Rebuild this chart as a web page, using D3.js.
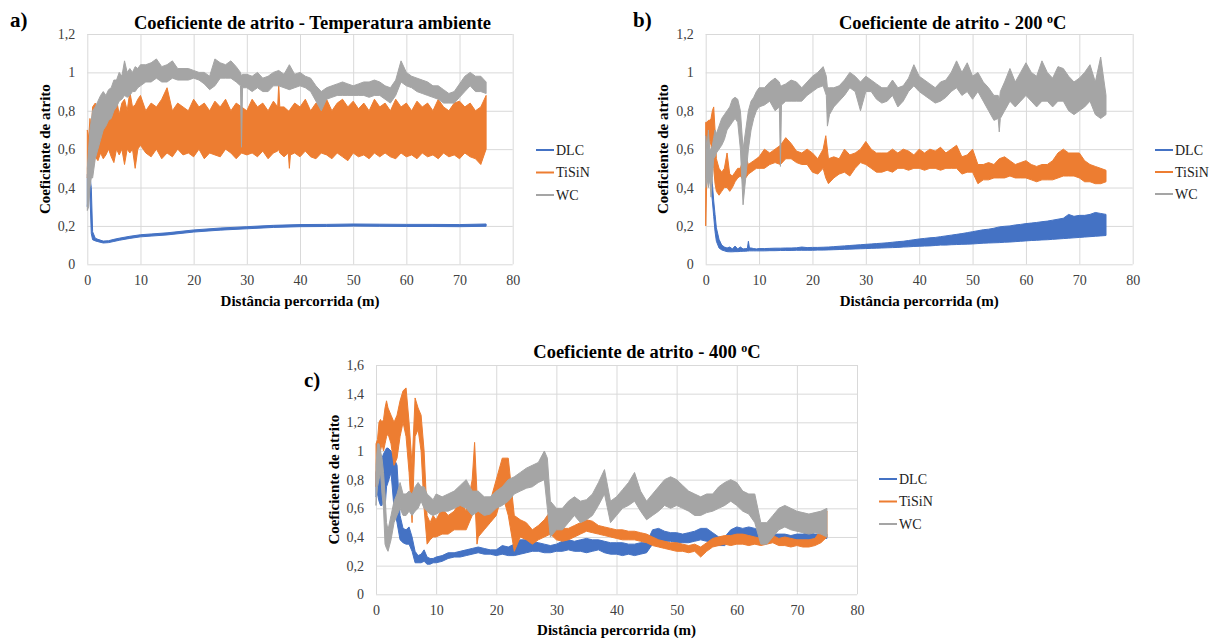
<!DOCTYPE html>
<html>
<head>
<meta charset="utf-8">
<script src="https://cdnjs.cloudflare.com/ajax/libs/d3/7.8.5/d3.min.js"></script>
<style>
  body { margin: 0; background: #fff; }
  text { font-family: "Liberation Serif", "Times New Roman", serif; }
</style>
</head>
<body>
<script>

// a) Temperatura ambiente
var dlcA = [[0,0.30,0.47],[0.25,0.40,0.47],[0.5,0.36,0.46],[0.75,0.16,0.40],[1,0.128,0.17],[1.5,0.122,0.136],[2,0.118,0.13],[3,0.111,0.121],[4,0.113,0.123],[5,0.119,0.13],[6,0.125,0.136],[8,0.135,0.146],[10,0.143,0.154],[12,0.147,0.158],[15,0.153,0.164],[20,0.168,0.179],[25,0.178,0.189],[30,0.185,0.196],[35,0.192,0.203],[40,0.196,0.207],[45,0.197,0.208],[50,0.199,0.21],[55,0.198,0.209],[60,0.197,0.208],[65,0.197,0.208],[70,0.196,0.207],[75,0.198,0.21]];
var tisinA = [[0,0.45,0.70],[0.25,0.50,0.66],[0.5,0.55,0.76],[0.75,0.52,0.70],[1,0.50,0.82],[1.5,0.56,0.84],[2,0.54,0.80],[2.5,0.58,0.85],[3,0.55,0.78],[3.5,0.57,0.86],[4,0.60,0.90],[4.5,0.56,0.82],[5,0.53,0.80],[5.5,0.60,0.86],[6,0.57,0.78],[6.5,0.60,0.84],[7,0.52,0.86],[7.5,0.60,0.80],[8,0.58,0.90],[8.5,0.60,0.82],[9,0.50,0.83],[9.5,0.60,0.86],[10,0.62,0.88],
  [11,0.58,0.80],[12,0.56,0.84],[13,0.60,0.82],[14,0.55,0.86],[15,0.58,0.92],[16,0.56,0.80],[17,0.60,0.84],[18,0.57,0.82],[19,0.58,0.80],[20,0.56,0.86],[21,0.60,0.82],[22,0.55,0.84],[23,0.58,0.80],[24,0.57,0.85],[25,0.56,0.82],[26,0.60,0.86],[27,0.58,0.80],[28,0.55,0.84],[29,0.58,0.82],[30,0.57,0.80],[31,0.58,0.86],[32,0.56,0.82],[33,0.59,0.84],[34,0.55,0.80],[35,0.58,0.85],[35.8,0.59,0.82],[36,0.60,0.94],[36.2,0.58,0.82],[37,0.56,0.82],[37.8,0.58,0.80],[38,0.50,0.80],[38.2,0.57,0.81],[39,0.58,0.84],[40,0.56,0.82],[41,0.59,0.86],[42,0.56,0.80],[43,0.55,0.84],[44,0.58,0.82],[45,0.57,0.86],[46,0.55,0.80],[47,0.58,0.84],[48,0.56,0.86],[49,0.54,0.82],[50,0.58,0.85],[51,0.56,0.81],[52,0.57,0.84],[53,0.55,0.80],[54,0.58,0.86],[55,0.56,0.82],[56,0.58,0.84],[57,0.56,0.80],[58,0.55,0.86],[59,0.58,0.82],[60,0.56,0.84],[61,0.57,0.80],[62,0.55,0.85],[63,0.58,0.82],[64,0.56,0.84],[65,0.57,0.80],[66,0.55,0.86],[67,0.58,0.82],[68,0.56,0.80],[69,0.57,0.84],[70,0.55,0.85],[71,0.58,0.82],[72,0.56,0.84],[73,0.55,0.80],[74,0.52,0.82],[75,0.60,0.88]];
var wcA = [[0,0.28,0.50],[0.25,0.30,0.60],[0.5,0.40,0.70],[0.75,0.45,0.75],[1,0.45,0.80],[1.5,0.55,0.82],[2,0.60,0.85],[2.5,0.65,0.88],[3,0.70,0.90],[3.5,0.72,0.88],[4,0.75,0.91],[4.5,0.76,0.92],[5,0.80,0.96],[5.5,0.82,0.96],[6,0.85,1.00],[6.5,0.86,0.98],[7,0.88,1.06],[7.5,0.87,1.00],[8,0.88,1.02],[8.5,0.90,1.00],[9,0.90,1.03],[9.5,0.92,1.02],[10,0.93,1.04],
  [11,0.95,1.04],[12,0.95,1.05],[13,0.97,1.07],[14,0.95,1.03],[15,0.95,1.04],[16,0.97,1.06],[17,0.96,1.02],[18,0.96,1.02],[19,0.96,1.02],[20,0.97,1.01],[21,0.96,1.00],[22,0.94,1.00],[23,0.91,0.98],[24,0.93,1.07],[25,0.97,1.05],[26,0.97,1.04],[27,0.97,1.06],[28,0.95,1.03],[28.8,0.93,1.00],[29,0.61,0.98],[29.2,0.92,0.99],[30,0.92,0.99],[31,0.90,0.98],[32,0.92,1.00],[33,0.90,0.97],[34,0.90,0.98],[35,0.93,1.00],[36,0.93,1.01],[37,0.92,0.99],[38,0.91,1.04],[39,0.92,0.99],[40,0.93,1.00],[41,0.92,0.98],[42,0.90,0.97],[43,0.85,0.93],[44,0.80,0.90],[45,0.86,0.92],[46,0.87,0.93],[47,0.88,0.94],[48,0.88,0.95],[49,0.88,0.94],[50,0.88,0.93],[51,0.88,0.94],[52,0.88,0.95],[53,0.87,0.95],[54,0.88,0.96],[55,0.88,0.95],[56,0.86,0.93],[57,0.84,0.92],[58,0.88,0.96],[59,0.95,1.06],[60,0.93,1.00],[61,0.92,0.98],[62,0.90,0.97],[63,0.89,0.96],[64,0.88,0.95],[65,0.87,0.93],[66,0.86,0.93],[67,0.84,0.91],[68,0.84,0.89],[69,0.84,0.90],[70,0.87,0.94],[71,0.90,0.98],[72,0.93,1.00],[73,0.90,0.98],[74,0.90,0.98],[75,0.89,0.95]];

// b) 200 ºC
var dlcB = [[0,0.45,0.67],[0.25,0.50,0.60],[0.5,0.45,0.55],[0.75,0.44,0.50],[1,0.40,0.47],[1.25,0.33,0.42],[1.5,0.25,0.33],[1.75,0.17,0.26],[2,0.12,0.19],[2.5,0.085,0.13],[3,0.075,0.10],[3.5,0.07,0.09],[4,0.066,0.085],[4.5,0.065,0.09],[5,0.065,0.08],[5.5,0.066,0.095],[6,0.066,0.08],[6.5,0.067,0.09],[7,0.068,0.08],[7.5,0.068,0.082],[7.8,0.069,0.082],[8,0.069,0.12],[8.2,0.07,0.085],[8.5,0.07,0.085],[9,0.07,0.082],[9.5,0.07,0.08],[10,0.07,0.082],
  [11,0.07,0.082],[12,0.071,0.083],[13,0.071,0.084],[14,0.072,0.084],[15,0.072,0.085],[16,0.072,0.085],[17,0.073,0.086],[18,0.073,0.09],[19,0.073,0.087],[20,0.073,0.088],[21,0.074,0.088],[22,0.074,0.089],[23,0.075,0.09],[24,0.076,0.092],[25,0.077,0.094],[26,0.078,0.096],[27,0.079,0.098],[28,0.08,0.10],[29,0.081,0.102],[30,0.082,0.104],[31,0.083,0.106],[32,0.084,0.108],[33,0.085,0.11],[34,0.086,0.112],[35,0.087,0.115],[36,0.088,0.118],[37,0.09,0.12],[38,0.091,0.124],[39,0.093,0.128],[40,0.094,0.132],[41,0.095,0.135],[42,0.096,0.138],[43,0.098,0.14],[44,0.10,0.144],[45,0.10,0.148],[46,0.102,0.152],[47,0.103,0.156],[48,0.104,0.16],[49,0.105,0.165],[50,0.106,0.17],[51,0.108,0.175],[52,0.11,0.18],[53,0.111,0.183],[54,0.112,0.188],[55,0.113,0.195],[56,0.115,0.198],[57,0.116,0.20],[58,0.118,0.205],[59,0.12,0.208],[60,0.122,0.212],[61,0.124,0.215],[62,0.125,0.218],[63,0.127,0.222],[64,0.128,0.225],[65,0.13,0.23],[66,0.132,0.235],[67,0.134,0.24],[68,0.136,0.26],[69,0.138,0.25],[70,0.14,0.255],[71,0.142,0.255],[72,0.144,0.26],[73,0.146,0.27],[74,0.148,0.265],[75,0.15,0.26]];
var tisinB = [[0,0.20,0.74],[0.25,0.50,0.74],[0.5,0.60,0.75],[0.75,0.65,0.75],[1,0.62,0.76],[1.25,0.55,0.80],[1.5,0.50,0.82],[1.75,0.42,0.70],[2,0.38,0.55],[2.5,0.36,0.50],[3,0.38,0.48],[3.5,0.40,0.50],[4,0.40,0.58],[4.5,0.38,0.47],[5,0.40,0.46],[5.5,0.43,0.48],[6,0.45,0.50],[6.5,0.46,0.50],[7,0.44,0.55],[7.5,0.45,0.56],[8,0.47,0.52],[8.5,0.48,0.53],[9,0.49,0.54],[9.5,0.50,0.55],[10,0.50,0.56],
  [11,0.50,0.60],[12,0.52,0.58],[13,0.53,0.60],[14,0.52,0.62],[15,0.55,0.66],[16,0.55,0.63],[17,0.53,0.59],[18,0.52,0.58],[19,0.52,0.60],[20,0.48,0.58],[21,0.47,0.55],[22,0.50,0.60],[22.5,0.45,0.67],[23,0.42,0.55],[24,0.45,0.56],[25,0.47,0.55],[26,0.48,0.60],[27,0.46,0.57],[28,0.50,0.58],[29,0.53,0.60],[30,0.52,0.64],[31,0.50,0.60],[32,0.48,0.58],[33,0.48,0.58],[34,0.49,0.58],[35,0.48,0.60],[36,0.50,0.58],[37,0.50,0.60],[38,0.49,0.59],[39,0.50,0.57],[40,0.50,0.60],[41,0.49,0.58],[42,0.50,0.60],[43,0.50,0.59],[44,0.49,0.61],[45,0.50,0.58],[46,0.50,0.60],[47,0.50,0.62],[48,0.47,0.56],[49,0.48,0.57],[50,0.48,0.60],[51,0.42,0.52],[52,0.44,0.52],[53,0.44,0.53],[54,0.45,0.52],[55,0.45,0.55],[56,0.45,0.56],[57,0.46,0.54],[58,0.45,0.52],[59,0.45,0.53],[60,0.45,0.54],[61,0.44,0.52],[62,0.43,0.51],[63,0.44,0.52],[64,0.44,0.52],[65,0.44,0.54],[66,0.45,0.58],[67,0.46,0.60],[68,0.46,0.58],[69,0.46,0.58],[70,0.45,0.58],[71,0.43,0.54],[72,0.43,0.52],[73,0.42,0.51],[74,0.42,0.50],[75,0.43,0.49]];
var wcB = [[0,0.40,0.67],[0.25,0.45,0.60],[0.5,0.40,0.70],[0.75,0.45,0.60],[1,0.35,0.60],[1.25,0.45,0.62],[1.5,0.55,0.66],[1.75,0.56,0.70],[2,0.58,0.68],[2.5,0.60,0.72],[3,0.62,0.76],[3.5,0.65,0.78],[4,0.70,0.80],[4.5,0.72,0.82],[5,0.74,0.86],[5.5,0.76,0.87],[6,0.74,0.86],[6.5,0.60,0.80],[7,0.31,0.60],[7.5,0.45,0.70],[8,0.60,0.80],[8.5,0.70,0.85],[9,0.76,0.87],[9.5,0.80,0.90],[10,0.82,0.92],
  [11,0.83,0.92],[12,0.85,0.95],[13,0.80,0.97],[13.8,0.82,0.95],[14,0.51,0.93],[14.2,0.83,0.93],[15,0.85,0.94],[16,0.85,0.96],[17,0.85,0.95],[18,0.85,0.92],[19,0.88,0.95],[20,0.90,0.98],[21,0.92,1.00],[22,0.93,1.03],[22.6,0.88,0.98],[22.8,0.72,0.92],[23.2,0.78,0.92],[24,0.82,0.92],[25,0.85,0.93],[26,0.88,0.96],[27,0.92,1.00],[28,0.90,0.98],[29,0.80,0.95],[30,0.90,0.98],[31,0.90,0.96],[32,0.86,0.94],[33,0.84,0.92],[34,0.85,0.92],[35,0.88,0.96],[36,0.82,0.92],[37,0.85,0.93],[38,0.90,0.97],[39,0.93,1.04],[40,0.90,0.98],[41,0.88,0.96],[42,0.86,0.94],[43,0.84,0.92],[44,0.85,0.95],[45,0.87,0.96],[46,0.90,1.00],[47,0.92,1.06],[48,0.88,1.00],[49,0.90,1.05],[50,0.86,0.98],[51,0.90,1.00],[52,0.85,0.95],[53,0.80,0.92],[54,0.75,0.88],[54.8,0.76,0.88],[55,0.69,0.85],[55.2,0.76,0.90],[56,0.80,0.95],[57,0.85,1.02],[58,0.82,0.95],[59,0.85,1.00],[60,0.88,1.05],[61,0.85,1.00],[62,0.82,0.98],[63,0.85,1.06],[64,0.85,1.00],[65,0.82,0.97],[66,0.85,1.03],[67,0.85,1.02],[68,0.80,0.98],[69,0.78,0.95],[70,0.80,0.97],[71,0.82,1.00],[72,0.85,1.04],[73,0.78,0.95],[74,0.76,1.08],[75,0.78,0.88]];

// c) 400 ºC
var dlcC = [[0,0.68,0.85],[0.25,0.70,0.90],[0.5,0.65,0.88],[0.75,0.62,0.92],[1,0.62,0.95],[1.25,0.70,0.98],[1.5,0.60,1.00],[1.75,0.75,1.02],[2,0.78,1.02],[2.5,0.85,1.00],[3,0.60,0.95],[3.5,0.50,0.90],[4,0.38,0.55],[4.5,0.36,0.46],[5,0.35,0.45],[5.5,0.35,0.47],[6,0.30,0.40],[6.5,0.22,0.30],[7,0.22,0.27],[7.5,0.22,0.28],[8,0.23,0.31],[8.5,0.21,0.26],[9,0.21,0.25],[9.5,0.22,0.25],[10,0.22,0.26],
  [11,0.23,0.27],[12,0.25,0.29],[13,0.26,0.29],[14,0.26,0.30],[15,0.27,0.31],[16,0.28,0.32],[17,0.29,0.33],[18,0.28,0.32],[19,0.28,0.31],[20,0.27,0.31],[21,0.28,0.34],[22,0.27,0.33],[23,0.27,0.35],[24,0.28,0.38],[25,0.29,0.38],[26,0.30,0.37],[27,0.30,0.36],[28,0.29,0.35],[29,0.29,0.34],[30,0.30,0.35],[31,0.30,0.37],[32,0.31,0.38],[33,0.30,0.37],[34,0.30,0.38],[35,0.29,0.39],[36,0.30,0.38],[37,0.31,0.38],[38,0.29,0.37],[39,0.28,0.36],[40,0.28,0.36],[41,0.27,0.36],[42,0.28,0.35],[43,0.27,0.35],[44,0.28,0.36],[45,0.29,0.36],[46,0.35,0.45],[47,0.36,0.46],[48,0.37,0.44],[49,0.37,0.43],[50,0.36,0.43],[51,0.36,0.42],[52,0.36,0.43],[53,0.37,0.44],[54,0.38,0.46],[55,0.37,0.46],[56,0.35,0.43],[57,0.34,0.40],[58,0.34,0.40],[59,0.38,0.45],[60,0.40,0.47],[61,0.40,0.46],[62,0.41,0.47],[63,0.39,0.46],[64,0.38,0.44],[65,0.37,0.43],[66,0.37,0.42],[67,0.38,0.42],[68,0.37,0.42],[69,0.37,0.41],[70,0.38,0.42],[71,0.38,0.42],[72,0.38,0.43],[73,0.38,0.42],[74,0.39,0.42],[75,0.39,0.42]];
var tisinC = [[0,0.75,1.05],[0.25,0.85,1.08],[0.5,0.95,1.20],[0.75,1.00,1.22],[1,1.05,1.20],[1.25,1.00,1.22],[1.5,1.05,1.30],[1.75,1.10,1.35],[2,1.12,1.30],[2.5,1.05,1.25],[3,0.90,1.20],[3.5,0.95,1.25],[4,1.10,1.35],[4.5,1.20,1.42],[5,1.10,1.44],[5.5,0.85,1.20],[6,0.50,0.90],[6.5,1.10,1.37],[7,1.15,1.30],[7.5,1.00,1.25],[8,0.60,1.00],[8.5,0.35,0.55],[9,0.38,0.50],[9.5,0.40,0.55],[10,0.40,0.52],
  [11,0.42,0.60],[12,0.42,0.55],[13,0.45,0.58],[14,0.45,0.65],[15,0.45,0.58],[16,0.55,0.80],[16.4,0.70,1.06],[16.8,0.35,0.70],[17,0.40,0.60],[18,0.45,0.60],[19,0.50,0.65],[20,0.55,0.80],[21,0.70,0.95],[22,0.55,0.95],[23,0.30,0.55],[24,0.40,0.52],[25,0.38,0.50],[26,0.35,0.45],[27,0.38,0.48],[28,0.40,0.52],[29,0.42,0.58],[30,0.38,0.50],[31,0.37,0.46],[32,0.38,0.46],[33,0.40,0.48],[34,0.42,0.50],[35,0.44,0.52],[36,0.43,0.51],[37,0.42,0.48],[38,0.41,0.47],[39,0.40,0.46],[40,0.39,0.45],[41,0.38,0.45],[42,0.38,0.44],[43,0.38,0.44],[44,0.37,0.43],[45,0.36,0.42],[46,0.34,0.40],[47,0.33,0.38],[48,0.32,0.37],[49,0.31,0.36],[50,0.30,0.36],[51,0.30,0.35],[52,0.29,0.34],[53,0.30,0.35],[54,0.26,0.33],[55,0.30,0.36],[56,0.33,0.39],[57,0.34,0.40],[58,0.35,0.41],[59,0.34,0.41],[60,0.35,0.42],[61,0.35,0.42],[62,0.34,0.41],[63,0.35,0.40],[64,0.34,0.39],[65,0.35,0.40],[66,0.36,0.41],[67,0.34,0.39],[68,0.34,0.40],[69,0.33,0.39],[70,0.34,0.38],[71,0.33,0.38],[72,0.33,0.38],[73,0.34,0.39],[74,0.36,0.45],[75,0.40,0.58]];
var wcC = [[0,0.62,0.90],[0.25,0.75,1.05],[0.5,0.80,1.05],[0.75,0.85,1.00],[1,0.70,0.95],[1.25,0.60,0.85],[1.5,0.35,0.70],[1.75,0.32,0.50],[2,0.30,0.45],[2.5,0.38,0.55],[3,0.50,0.65],[3.5,0.55,0.70],[4,0.60,0.78],[4.5,0.55,0.70],[5,0.55,0.70],[5.5,0.58,0.72],[6,0.55,0.70],[6.5,0.58,0.75],[7,0.60,0.78],[7.5,0.65,0.75],[8,0.60,0.75],[8.5,0.58,0.70],[9,0.56,0.68],[9.5,0.55,0.66],[10,0.56,0.70],
  [11,0.58,0.68],[12,0.58,0.70],[13,0.60,0.72],[14,0.62,0.76],[15,0.60,0.80],[16,0.55,0.72],[17,0.58,0.72],[18,0.55,0.68],[19,0.56,0.68],[20,0.60,0.72],[21,0.62,0.75],[22,0.65,0.80],[23,0.70,0.82],[24,0.72,0.85],[25,0.74,0.88],[26,0.75,0.90],[27,0.78,0.92],[28,0.80,1.00],[28.5,0.60,0.95],[29,0.40,0.65],[30,0.45,0.60],[31,0.45,0.60],[32,0.50,0.65],[33,0.55,0.68],[34,0.50,0.65],[35,0.52,0.66],[36,0.55,0.70],[37,0.62,0.78],[38,0.70,0.87],[39,0.50,0.65],[40,0.55,0.68],[41,0.60,0.73],[42,0.62,0.78],[43,0.65,0.85],[44,0.58,0.72],[45,0.52,0.65],[46,0.55,0.70],[47,0.58,0.75],[48,0.62,0.80],[49,0.60,0.82],[50,0.62,0.80],[51,0.60,0.76],[52,0.58,0.72],[53,0.55,0.70],[54,0.55,0.68],[55,0.57,0.70],[56,0.58,0.70],[57,0.60,0.75],[58,0.62,0.78],[59,0.65,0.80],[60,0.62,0.78],[61,0.58,0.72],[62,0.56,0.70],[63,0.50,0.70],[64,0.35,0.50],[65,0.35,0.50],[66,0.40,0.55],[67,0.45,0.60],[68,0.47,0.62],[69,0.45,0.60],[70,0.44,0.58],[71,0.43,0.57],[72,0.42,0.56],[73,0.43,0.57],[74,0.42,0.58],[75,0.40,0.60]];

var series = ["DLC", "TiSiN", "WC"];
var xTicks = [0, 10, 20, 30, 40, 50, 60, 70, 80];
var yTicksAB = [0, 0.2, 0.4, 0.6, 0.8, 1, 1.2];
var yTicksC = [0, 0.2, 0.4, 0.6, 0.8, 1, 1.2, 1.4, 1.6];

var cores = { DLC: "#4472C4", TiSiN: "#ED7D31", WC: "#A5A5A5" };

var svg = d3.select("body").append("svg")
    .attr("width", 1210)
    .attr("height", 639);

var virgula = function(v) { return String(+v.toFixed(1)).replace(".", ","); };

function painel(p) {
    var x = d3.scaleLinear().domain([0, 80]).range([p.left, p.right]);
    var y = d3.scaleLinear().domain([0, p.yTicks[p.yTicks.length - 1]]).range([p.bottom, p.top]);
    var g = svg.append("g");

    var gy = g.append("g")
        .attr("transform", "translate(" + p.left + ",0)")
        .call(d3.axisLeft(y).tickValues(p.yTicks).tickFormat(virgula)
            .tickSize(-(p.right - p.left)).tickPadding(12));
    var gx = g.append("g")
        .attr("transform", "translate(0," + p.bottom + ")")
        .call(d3.axisBottom(x).tickValues(xTicks).tickFormat(d3.format("d"))
            .tickSize(-(p.bottom - p.top)).tickPadding(11));
    [gy, gx].forEach(function(a) {
        a.select(".domain").remove();
        a.selectAll("line").attr("stroke", "#d9d9d9");
        a.selectAll("text").attr("font-size", 14).attr("fill", "#404040")
            .attr("font-family", "Liberation Serif");
    });

    // faixa entre o mínimo e o máximo de cada distância (o sinal é muito denso)
    var faixa = d3.area()
        .x(function(d) { return x(d[0]); })
        .y0(function(d) { return y(d[1]); })
        .y1(function(d) { return y(d[2]); });
    series.forEach(function(s, i) {
        g.append("path")
            .attr("d", faixa(p.dados[i]))
            .attr("fill", cores[s])
            .attr("stroke", cores[s])
            .attr("stroke-width", 1)
            .attr("stroke-linejoin", "round");
    });

    // título
    var t = g.append("text")
        .attr("x", p.titleX).attr("y", p.titleY)
        .attr("text-anchor", "middle")
        .attr("font-size", 18.5).attr("font-weight", "bold");
    t.append("tspan").text(p.title);
    if (p.grau) {
        t.append("tspan").attr("dy", -6).attr("font-size", 12).text("o");
        t.append("tspan").attr("dy", 6).text("C");
    }

    g.append("text")
        .attr("x", p.letraX).attr("y", p.letraY)
        .attr("font-size", 21).attr("font-weight", "bold")
        .text(p.letra);

    g.append("text")
        .attr("transform", "translate(" + p.yTitleX + "," + ((p.top + p.bottom) / 2) + ") rotate(-90)")
        .attr("text-anchor", "middle").attr("dy", "0.35em")
        .attr("font-size", 15).attr("font-weight", "bold")
        .text("Coeficiente de atrito");

    g.append("text")
        .attr("x", (p.left + p.right) / 2).attr("y", p.xTitleY)
        .attr("text-anchor", "middle")
        .attr("font-size", 15).attr("font-weight", "bold")
        .text("Distância percorrida (m)");

    // legenda
    var leg = g.selectAll(".leg").data(series).join("g")
        .attr("transform", function(d, i) { return "translate(" + p.legX + "," + (p.legY + i * p.legDy) + ")"; });
    leg.append("line").attr("x1", 0).attr("x2", 18)
        .attr("stroke", function(d) { return cores[d]; }).attr("stroke-width", 2);
    leg.append("text").attr("x", 20).attr("dy", "0.35em")
        .attr("font-size", 14).attr("fill", "#222").text(function(d) { return d; });
}

painel({
    left: 87.3, right: 512.7, top: 34, bottom: 264.3, yTicks: yTicksAB,
    dados: [dlcA, tisinA, wcA],
    title: "Coeficiente de atrito - Temperatura ambiente", grau: false,
    titleX: 312.5, titleY: 29, letra: "a)", letraX: 10, letraY: 27,
    yTitleX: 45, xTitleY: 306, legX: 536, legY: 150, legDy: 22.5
});
painel({
    left: 705.7, right: 1132.7, top: 34, bottom: 264.3, yTicks: yTicksAB,
    dados: [dlcB, tisinB, wcB],
    title: "Coeficiente de atrito - 200 ", grau: true,
    titleX: 952.7, titleY: 29, letra: "b)", letraX: 633, letraY: 27,
    yTitleX: 663, xTitleY: 306, legX: 1155, legY: 150, legDy: 22
});
painel({
    left: 376, right: 857, top: 365, bottom: 594.3, yTicks: yTicksC,
    dados: [dlcC, tisinC, wcC],
    title: "Coeficiente de atrito - 400 ", grau: true,
    titleX: 647, titleY: 358, letra: "c)", letraX: 304, letraY: 387,
    yTitleX: 334, xTitleY: 635, legX: 879, legY: 479, legDy: 22.5
});
</script>
</body>
</html>
